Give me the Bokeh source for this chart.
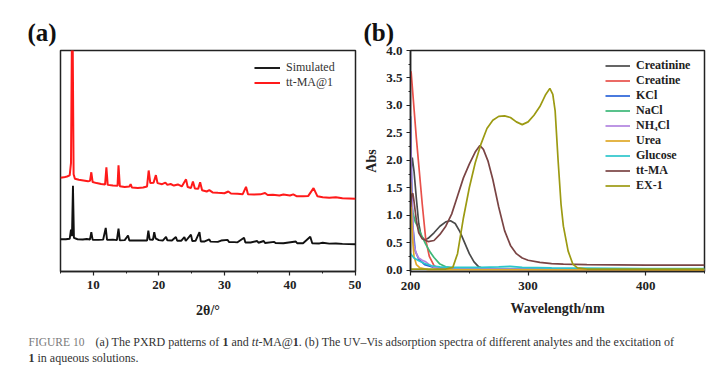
from bokeh.plotting import figure
from bokeh.layouts import column, row
from bokeh.models import Legend, LegendItem, Range1d, FixedTicker, PrintfTickFormatter
from bokeh.embed import file_html
from bokeh.resources import INLINE
from bokeh.core.properties import value

SERIF = "Liberation Serif"

# ---------------- Panel (a): PXRD ----------------
sim_x = [5.0, 5.8, 6.4, 6.6, 6.75, 6.9, 7.05, 7.6, 8.4, 9.0, 9.5, 9.7, 9.9, 10.8, 11.5, 11.9, 12.1,
         13.0, 13.6, 13.85, 14.05, 14.8, 15.3, 15.5, 16.5, 17.5, 18.2, 18.4, 18.6, 19.1, 19.3, 19.5,
         20.0, 20.6, 21.1, 21.3, 22.0, 22.6, 22.8, 23.4, 23.9, 24.1, 24.9, 25.1, 25.6, 26.2, 26.4,
         27.0, 27.7, 27.9, 29.0, 29.5, 30.5, 30.7, 31.5, 32.0, 33.0, 33.2, 34.0, 35.0, 35.2, 36.0,
         36.2, 37.6, 37.8, 39.0, 40.9, 41.1, 42.0, 43.1, 43.4, 44.5, 45.0, 46.0, 47.0, 48.0, 49.0, 50.0]
sim_y = [14.6, 14.6, 14.8, 18.9, 16.0, 38.8, 15.2, 14.6, 14.5, 14.7, 14.5, 17.8, 14.4, 14.3, 14.4, 19.7, 14.3,
         14.4, 14.2, 19.4, 14.1, 14.2, 16.3, 14.0, 14.0, 14.1, 14.0, 18.5, 14.5, 14.3, 17.8, 15.0,
         14.2, 14.0, 15.7, 14.1, 14.0, 15.6, 13.9, 13.9, 15.6, 13.8, 16.7, 13.8, 13.9, 17.8, 13.6,
         13.6, 14.5, 13.5, 13.4, 14.0, 14.3, 13.3, 13.3, 13.2, 15.3, 13.1, 13.1, 13.8, 13.0, 13.8,
         12.9, 13.4, 12.9, 12.8, 13.6, 12.8, 12.8, 15.7, 12.8, 12.7, 13.0, 12.6, 12.7, 12.5, 12.4, 12.3]

exp_x = [5.0, 5.5, 6.0, 6.4, 6.6, 6.8, 7.0, 7.2, 7.8, 8.5, 9.2, 9.5, 9.7, 9.9, 10.5, 11.2, 11.8, 12.0, 12.2,
         13.0, 13.7, 13.85, 14.05, 14.8, 15.5, 15.7, 15.9, 16.8, 17.6, 18.2, 18.45, 18.7, 19.2, 19.55,
         19.8, 20.5, 21.0, 21.3, 21.8, 22.3, 22.9, 23.5, 24.15, 24.4, 24.9, 25.2, 25.5, 26.0, 26.3, 26.6,
         27.3, 27.7, 28.2, 29.0, 30.0, 30.6, 31.0, 32.0, 32.8, 33.3, 33.6, 34.5, 35.5, 36.2, 36.6, 37.4,
         38.4, 39.0, 40.0, 40.5, 41.0, 42.0, 42.8, 43.6, 44.2, 45.0, 46.0, 47.0, 48.0, 49.0, 50.0]
exp_y = [42.4, 42.6, 43.0, 43.5, 49.0, 130.0, 44.0, 42.0, 41.5, 41.2, 40.8, 41.0, 44.9, 40.5, 40.0, 39.6, 39.4, 47.1, 39.2,
         38.9, 38.8, 48.0, 38.6, 38.2, 38.5, 39.5, 38.0, 37.8, 38.0, 38.5, 45.7, 40.0, 40.2, 43.6,
         40.0, 39.5, 40.2, 39.2, 39.6, 38.9, 39.4, 38.5, 41.7, 38.2, 37.8, 40.7, 37.6, 37.4, 40.4, 36.8,
         36.2, 36.8, 35.8, 35.6, 35.4, 36.2, 35.3, 35.2, 35.0, 38.3, 35.0, 34.8, 34.9, 35.5, 34.6, 34.7,
         34.4, 34.8, 34.4, 34.9, 34.1, 34.0, 34.2, 37.7, 34.0, 33.6, 33.4, 33.6, 33.1, 33.0, 32.9]

a_ticks = [10, 20, 30, 40, 50]
a_minor = [5, 15, 25, 35, 45]

# ---------------- Panel (b): UV-Vis ----------------
creatinine_nm = [200, 201.5, 203, 205, 207, 209, 212, 215, 220, 225, 230, 234, 238, 242, 246, 250, 254, 258, 262, 300, 450]
creatinine_abs = [1.7, 2.05, 1.8, 1.3, 0.85, 0.62, 0.55, 0.58, 0.68, 0.8, 0.88, 0.9, 0.85, 0.7, 0.5, 0.3, 0.15, 0.06, 0.03, 0.02, 0.01]

creatine_nm = [200, 200.5, 205, 210, 213, 216, 220, 225, 450]
creatine_abs = [3.5, 3.62, 2.4, 1.2, 0.55, 0.25, 0.08, 0.02, 0.0]

kcl_nm = [200, 201, 202, 204, 207, 212, 220, 240, 450]
kcl_abs = [2.8, 1.6, 0.8, 0.35, 0.2, 0.1, 0.05, 0.02, 0.01]

nacl_nm = [200, 202, 204, 206, 209, 213, 217, 220, 225, 230, 240, 450]
nacl_abs = [1.35, 1.05, 0.88, 0.8, 0.65, 0.47, 0.32, 0.23, 0.11, 0.06, 0.03, 0.01]

nh4cl_nm = [200, 201, 202, 203, 205, 207, 210, 213, 216, 220, 230, 450]
nh4cl_abs = [2.6, 1.5, 0.8, 0.45, 0.3, 0.22, 0.18, 0.15, 0.1, 0.05, 0.02, 0.01]

urea_nm = [200, 201, 202, 203, 205, 208, 215, 450]
urea_abs = [1.6, 0.9, 0.5, 0.25, 0.1, 0.04, 0.01, 0.0]

glucose_nm = [200, 203, 207, 212, 218, 225, 235, 260, 275, 285, 295, 320, 400, 450]
glucose_abs = [0.3, 0.22, 0.17, 0.12, 0.08, 0.06, 0.05, 0.05, 0.06, 0.07, 0.05, 0.04, 0.03, 0.03]

ttma_nm = [200, 201, 202, 203, 205, 207, 210, 215, 220, 225, 230, 235, 240, 245, 250, 255, 259, 262, 266,
           270, 275, 280, 285, 290, 295, 300, 310, 320, 330, 350, 400, 450]
ttma_abs = [1.15, 1.38, 1.4, 1.25, 0.9, 0.68, 0.57, 0.52, 0.54, 0.65, 0.8, 1.02, 1.35, 1.68, 1.93, 2.15, 2.27, 2.2, 1.98,
            1.65, 1.15, 0.72, 0.45, 0.3, 0.22, 0.18, 0.14, 0.12, 0.11, 0.1, 0.09, 0.09]

ex1_nm = [200, 230, 236, 240, 245, 250, 255, 260, 265, 270, 275, 280, 285, 290, 295, 300, 305, 310, 315,
          318.5, 321, 323, 325.5, 328, 330, 334, 338, 342, 350, 450]
ex1_abs = [0.02, 0.02, 0.05, 0.3, 0.95, 1.5, 1.95, 2.3, 2.58, 2.73, 2.8, 2.81, 2.78, 2.7, 2.65, 2.7, 2.82, 2.98, 3.2,
           3.31, 3.2, 2.9, 2.0, 1.2, 0.8, 0.35, 0.11, 0.04, 0.02, 0.02]

b_labels = ["Creatinine", "Creatine", "KCl", "NaCl", "NH₄Cl", "Urea", "Glucose", "tt-MA", "EX-1"]
b_colors = ["#4a4a4a", "#e8504a", "#2a62d8", "#3cb878", "#b283e0", "#e0a826", "#2cc6cc", "#7a4444", "#9c9a12"]
b_x = [creatinine_nm, creatine_nm, kcl_nm, nacl_nm, nh4cl_nm, urea_nm, glucose_nm, ttma_nm, ex1_nm]
b_y = [creatinine_abs, creatine_abs, kcl_abs, nacl_abs, nh4cl_abs, urea_abs, glucose_abs, ttma_abs, ex1_abs]
b_yticks = [0.0, 0.5, 1.0, 1.5, 2.0, 2.5, 3.0, 3.5, 4.0]
b_yminor = [0.25, 0.75, 1.25, 1.75, 2.25, 2.75, 3.25, 3.75]
b_xticks = [200, 300, 400]
b_xminor = [250, 350, 450]

# caption pieces: (text, style)
caption_head = "FIGURE 10"
caption_line1 = [("(a) The PXRD patterns of ", "normal"), ("1", "bold"), (" and ", "normal"),
                 ("tt", "italic"), ("-MA@", "normal"), ("1", "bold"),
                 (". (b) The UV\u2013Vis adsorption spectra of different analytes and the excitation of", "normal")]
caption_line2 = [("1", "bold"), (" in aqueous solutions.", "normal")]

# Times-compatible advance widths (per 1000 em) for placing the caption pieces
_W = {' ': 250, '(': 333, ')': 333, 'a': 444, 'T': 611, 'h': 500, 'e': 444, 'P': 556, 'X': 722, 'R': 667,
      'D': 722, 'p': 500, 't': 278, 'r': 333, 'n': 500, 's': 389, 'o': 500, 'f': 333, 'd': 500, '1': 500,
      '-': 333, 'M': 889, 'A': 722, '@': 921, '.': 250}


def text_width(s, size):
    return sum(_W.get(ch, 500) for ch in s) * size / 1000.0


def style_axis(ax, size="13px"):
    ax.axis_line_width = 1.5
    ax.axis_line_color = "#222222"
    ax.major_tick_line_color = "#222222"
    ax.minor_tick_line_color = "#222222"
    ax.major_tick_line_width = 1.2
    ax.major_tick_out = 4
    ax.major_tick_in = 0
    ax.minor_tick_out = 2
    ax.minor_tick_in = 0
    ax.major_label_text_font = SERIF
    ax.major_label_text_font_style = "bold"
    ax.major_label_text_font_size = size
    ax.major_label_text_color = "#222222"
    ax.axis_label_text_font = SERIF
    ax.axis_label_text_font_style = "bold"
    ax.axis_label_text_font_size = "14px"
    ax.axis_label_text_color = "#222222"


# ---- figure a ----
pa = figure(width=361, height=320, x_range=Range1d(5, 50), y_range=Range1d(0, 100),
            output_backend="svg", toolbar_location=None,
            min_border_left=60, min_border_right=6, min_border_top=46, min_border_bottom=47)
pa.xgrid.visible = False
pa.ygrid.visible = False
pa.yaxis.visible = False
pa.outline_line_color = "#222222"
pa.outline_line_width = 1.5
pa.xaxis.ticker = FixedTicker(ticks=a_ticks, minor_ticks=a_minor)
pa.xaxis.axis_label = "2θ/°"
style_axis(pa.xaxis[0])
pa.xaxis.major_label_standoff = 5
pa.xaxis.axis_label_standoff = 11
ra1 = pa.line(sim_x, sim_y, line_color="#111111", line_width=1.9)
ra2 = pa.line(exp_x, exp_y, line_color="#ff1a1a", line_width=2.0)
leg_a = Legend(items=[LegendItem(label="Simulated", renderers=[ra1]),
                      LegendItem(label="tt-MA@1", renderers=[ra2])],
               location=(194, 181), glyph_width=26, glyph_height=13, label_height=13,
               label_standoff=6, padding=0, margin=0, spacing=0,
               border_line_color=None, background_fill_alpha=0,
               label_text_font=SERIF, label_text_font_size="12px", label_text_color="#333333")
pa.add_layout(leg_a)
pa.title.text = "(a)"
pa.title.align = "left"
pa.title.offset = -33
pa.title.text_font = SERIF
pa.title.text_font_style = "bold"
pa.title.text_font_size = "25px"
pa.title.text_color = "#111111"

# ---- figure b ----
pb = figure(width=351, height=320, x_range=Range1d(200, 450), y_range=Range1d(-0.025, 4.0),
            output_backend="svg", toolbar_location=None,
            min_border_left=47, min_border_right=8, min_border_top=50, min_border_bottom=46)
pb.xgrid.visible = False
pb.ygrid.visible = False
pb.outline_line_color = "#222222"
pb.outline_line_width = 1.5
pb.xaxis.ticker = FixedTicker(ticks=b_xticks, minor_ticks=b_xminor)
pb.yaxis.ticker = FixedTicker(ticks=b_yticks, minor_ticks=b_yminor)
pb.yaxis.formatter = PrintfTickFormatter(format="%.1f")
pb.xaxis.axis_label = "Wavelength/nm"
pb.yaxis.axis_label = "Abs"
style_axis(pb.xaxis[0])
style_axis(pb.yaxis[0])
pb.xaxis.major_label_standoff = 6
pb.yaxis.major_label_standoff = 4
pb.xaxis.axis_label_standoff = 8
pb.yaxis.axis_label_standoff = 4
items = []
for lab, col, xs, ys in zip(b_labels, b_colors, b_x, b_y):
    r = pb.line(xs, ys, line_color=col, line_width=1.7)
    items.append(LegendItem(label=lab, renderers=[r]))
leg_b = Legend(items=items, location=(195, 78), glyph_width=25, glyph_height=15, label_height=15,
               label_standoff=6, padding=0, margin=0, spacing=0,
               border_line_color=None, background_fill_alpha=0,
               label_text_font=SERIF, label_text_font_style="bold", label_text_font_size="12px",
               label_text_color="#222222")
pb.add_layout(leg_b)
pb.title.text = "(b)"
pb.title.align = "left"
pb.title.offset = -47
pb.title.text_font = SERIF
pb.title.text_font_style = "bold"
pb.title.text_font_size = "25px"
pb.title.text_color = "#111111"

# ---- caption ----
pc = figure(width=712, height=45, x_range=Range1d(0, 712), y_range=Range1d(45, 0),
            output_backend="svg", toolbar_location=None, x_axis_type=None, y_axis_type=None,
            min_border=0)
pc.xgrid.visible = False
pc.ygrid.visible = False
pc.outline_line_color = None
CAP = 12.0
pc.text(x=[28], y=[21], text=[caption_head], text_font=value(SERIF), text_font_size="11.5px",
        text_color="#7a7a7a", text_baseline="middle")


def draw_pieces(pieces, x0, y0):
    x = x0
    for txt, sty in pieces:
        lead = len(txt) - len(txt.lstrip(" "))
        shown = txt.strip(" ")
        pc.text(x=[x + text_width(" " * lead, CAP)], y=[y0], text=[shown], text_font=value(SERIF),
                text_font_size=f"{CAP}px", text_font_style=sty, text_color="#333333",
                text_baseline="middle")
        x += text_width(txt, CAP)


draw_pieces(caption_line1, 95, 21)
draw_pieces(caption_line2, 28, 37)

layout = column(row(pa, pb, spacing=0), pc, spacing=0)
open("out.html", "w").write(file_html(layout, INLINE))
